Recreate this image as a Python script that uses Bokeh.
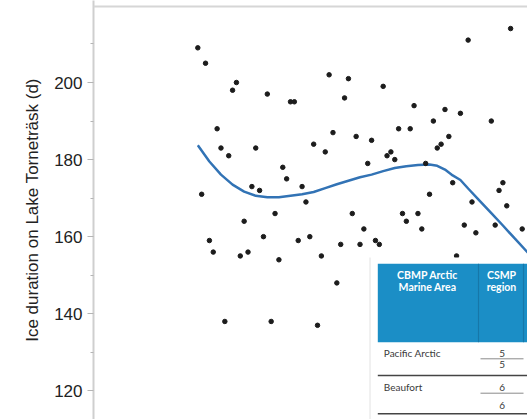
from bokeh.plotting import figure
from bokeh.models import Range1d, FixedTicker, Span
from bokeh.core.properties import value
from bokeh.embed import file_html
from bokeh.resources import INLINE

# ---- data ----
years = [1917, 1918, 1919, 1920, 1921, 1922, 1923, 1924, 1925, 1926,
         1927, 1928, 1929, 1930, 1931, 1932, 1933, 1934, 1935, 1936,
         1937, 1938, 1939, 1940, 1941, 1942, 1943, 1944, 1945, 1946,
         1947, 1948, 1949, 1950, 1951, 1952, 1953, 1954, 1955, 1956,
         1957, 1958, 1959, 1960, 1961, 1962, 1963, 1964, 1965, 1966,
         1967, 1968, 1969, 1970, 1971, 1972, 1973, 1974, 1975, 1976,
         1977, 1978, 1979, 1980, 1981, 1982, 1983, 1984, 1985, 1986,
         1987, 1988, 1989, 1993, 1994, 1995, 1996, 1997, 1998, 2001]
ice_days = [209, 171, 205, 159, 156, 188, 183, 138, 181, 198,
            200, 155, 164, 156, 173, 183, 172, 160, 197, 138,
            166, 154, 178, 175, 195, 195, 159, 173, 169, 160,
            184, 137, 155, 182, 202, 187, 148, 158, 196, 201,
            166, 186, 158, 162, 179, 185, 159, 158, 199, 181,
            182, 180, 188, 166, 164, 188, 194, 166, 162, 179,
            171, 190, 183, 184, 193, 186, 174, 155, 192, 163,
            211, 169, 161, 190, 163, 172, 174, 168, 214, 162]

smooth_years = [1917, 1920, 1923, 1926, 1929, 1932, 1935, 1938, 1941, 1944,
                1947, 1950, 1953, 1956, 1959, 1962, 1965, 1968, 1971, 1974,
                1977, 1979, 1981, 1983, 1985, 1987, 1990, 1993, 1996, 1999, 2002.5]
smooth_days = [183.7, 179.5, 176.1, 173.5, 171.7, 170.6, 170.2, 170.2, 170.6, 171.0,
               171.6, 172.6, 173.6, 174.5, 175.4, 176.1, 177.0, 177.8, 178.3, 178.6,
               178.7, 178.4, 177.4, 175.9, 174.7, 172.5, 169.3, 166.1, 162.9, 159.6, 155.8]

y_ticks = [120, 140, 160, 180, 200]
y_minor_ticks = [110, 130, 150, 170, 190, 210]
y_label = "Ice duration on Lake Torneträsk (d)"

header_col1 = ["CBMP Arctic", "Marine Area"]
header_col2 = ["CSMP", "region"]
row_names = ["Pacific Arctic", "Beaufort"]
row_codes = ["5", "5", "6", "6"]

# ---- ranges ----
X0, X1 = 1889.99, 2002.37
Y0, Y1 = 112.56, 221.28
FRAME_L, FRAME_W = 93, 434
FRAME_T, FRAME_H = 0, 419


def X(px):
    return X0 + (px - FRAME_L) * (X1 - X0) / FRAME_W


def Y(py):
    return Y1 - (py - FRAME_T) * (Y1 - Y0) / FRAME_H


p = figure(width=527, height=419,
           x_range=Range1d(X0, X1), y_range=Range1d(Y0, Y1),
           x_axis_location=None, y_axis_location="left",
           output_backend="svg", toolbar_location=None,
           min_border_left=93, min_border_right=0,
           min_border_top=0, min_border_bottom=0)
p.outline_line_color = None
p.xgrid.visible = False
p.ygrid.visible = False
p.background_fill_color = "white"
p.border_fill_color = "white"

ax = p.yaxis[0]
ax.ticker = FixedTicker(ticks=y_ticks, minor_ticks=y_minor_ticks)
ax.axis_label = y_label
ax.axis_label_text_font = "Liberation Sans"
ax.axis_label_text_font_size = "17px"
ax.axis_label_text_font_style = "normal"
ax.axis_label_text_color = "#222222"
ax.axis_label_standoff = 9
ax.major_label_text_font = "Liberation Sans"
ax.major_label_text_font_size = "17px"
ax.major_label_text_color = "#222222"
ax.major_label_standoff = 5
ax.axis_line_color = "#cfcfcf"
ax.axis_line_width = 2
ax.major_tick_line_color = "#b5b5b5"
ax.minor_tick_line_color = "#b5b5b5"
ax.major_tick_out = 6
ax.major_tick_in = 0
ax.minor_tick_out = 3
ax.minor_tick_in = 0

p.add_layout(Span(location=Y(6), dimension="width",
                  line_color="#d6d6d6", line_width=2))

p.line(smooth_years, smooth_days, line_color="#3273b5", line_width=2.5)
p.scatter(years, ice_days, size=4.5, fill_color="#1c1c1c", line_color="#1c1c1c")

# ---- overlaid table image ----
p.quad(left=[X(369)], right=[X(530)], top=[Y(257)], bottom=[Y(425)],
       fill_color="white", line_color=None, level="overlay")
p.segment(x0=[X(369.5)], y0=[Y(257)], x1=[X(369.5)], y1=[Y(425)],
          line_color="#e2e2e2", line_width=1, level="overlay")
p.quad(left=[X(377.3)], right=[X(530)], top=[Y(263.3)], bottom=[Y(341.7)],
       fill_color="#1b8ec6", line_color=None, level="overlay")
p.segment(x0=[X(478), X(523)], y0=[Y(263.3), Y(263.3)],
          x1=[X(478), X(523)], y1=[Y(341.7), Y(341.7)],
          line_color="#1677a9", line_width=1.2, level="overlay")

p.text(x=[X(427), X(427), X(501), X(501)],
       y=[Y(274), Y(286), Y(274), Y(286)],
       text=header_col1 + header_col2,
       text_font=value("Lato"), text_font_size="10.5px", text_font_style="bold",
       text_color="white", text_align="center", text_baseline="middle",
       level="overlay")

p.text(x=[X(383.3), X(383.3)], y=[Y(352.7), Y(386.7)], text=row_names,
       text_font=value("Lato"), text_font_size="10px",
       text_color="#3a3a3a", text_align="left", text_baseline="middle",
       level="overlay")
p.text(x=[X(501.7)] * 4, y=[Y(352.7), Y(364), Y(386.7), Y(405)], text=row_codes,
       text_font=value("Lato"), text_font_size="10px",
       text_color="#3a3a3a", text_align="center", text_baseline="middle",
       level="overlay")

p.segment(x0=[X(480), X(480)], y0=[Y(358.3), Y(392.7)],
          x1=[X(523), X(523)], y1=[Y(358.3), Y(392.7)],
          line_color="#8a8a8a", line_width=1, level="overlay")
p.segment(x0=[X(377.3), X(377.3)], y0=[Y(375), Y(413.3)],
          x1=[X(530), X(530)], y1=[Y(375), Y(413.3)],
          line_color="#444444", line_width=1.6, level="overlay")

open("out.html", "w").write(file_html(p, INLINE))
